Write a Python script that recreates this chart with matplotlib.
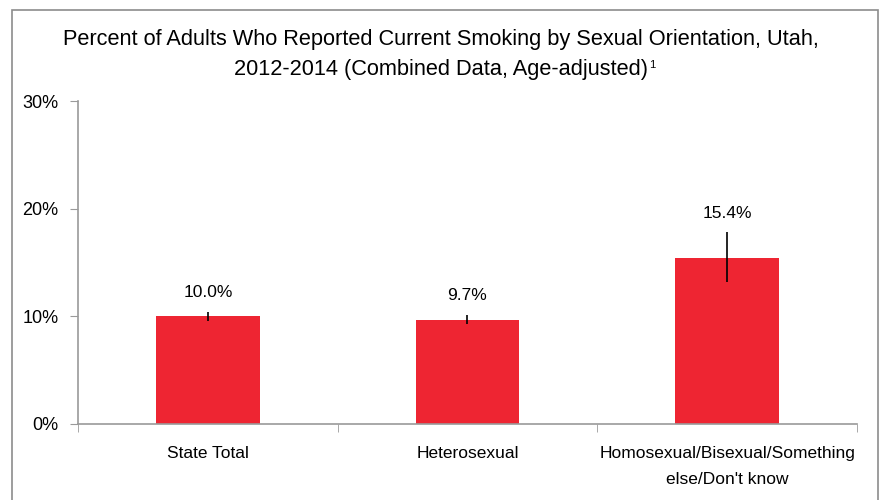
import matplotlib
matplotlib.use("Agg")
import matplotlib.pyplot as plt
from matplotlib.patches import Rectangle
from matplotlib.ticker import FuncFormatter

categories = ["State Total", "Heterosexual", "Homosexual/Bisexual/Something\nelse/Don't know"]
values = [10.0, 9.7, 15.4]
err_low = [9.6, 9.3, 13.2]
err_high = [10.4, 10.1, 17.8]
labels = ["10.0%", "9.7%", "15.4%"]

plt.rcParams['font.family'] = ['Liberation Sans', 'DejaVu Sans']

fig = plt.figure(figsize=(8.82, 5), dpi=100)
ax = fig.add_axes([78/882, 1 - 424/500, (857-78)/882, (424-101)/500])

# outer frame
fig.patches.append(Rectangle((12/882, -0.05), (878-12)/882, 1.05 - 10/500,
                             transform=fig.transFigure, fill=False,
                             edgecolor="#8c8c8c", linewidth=1.2))

x = range(len(categories))
yerr = [[v - lo for v, lo in zip(values, err_low)], [hi - v for v, hi in zip(values, err_high)]]
ax.bar(x, values, width=0.4, color="#ee2532")
ax.errorbar(x, values, yerr=yerr, fmt="none", ecolor="black", elinewidth=1.2, capsize=0)

for xi, hi, lab in zip(x, err_high, labels):
    ax.text(xi, hi + 1.1, lab, ha="center", va="bottom", fontsize=12.5)

ax.set_xlim(-0.5, 2.5)
ax.set_ylim(0, 30)
ax.set_yticks([0, 10, 20, 30])
ax.yaxis.set_major_formatter(FuncFormatter(lambda v, p: "%d%%" % v))
ax.set_xticks(list(x))
ax.set_xticklabels(categories, fontsize=12.5, linespacing=1.9)
ax.set_xticks([-0.5, 0.5, 1.5, 2.5], minor=True)
ax.tick_params(axis="x", which="major", length=0, pad=16)
ax.tick_params(axis="x", which="minor", length=6, color="#9a9a9a")
ax.tick_params(axis="y", length=6, color="#9a9a9a", labelsize=13, pad=8)

for s in ["top", "right"]:
    ax.spines[s].set_visible(False)
for s in ["left", "bottom"]:
    ax.spines[s].set_color("#9a9a9a")
    ax.spines[s].set_linewidth(1.2)

fig.text(0.5, 1 - 39/500, "Percent of Adults Who Reported Current Smoking by Sexual Orientation, Utah,",
         ha="center", va="center", fontsize=15.7)
line2 = fig.text(0.5, 1 - 70/500, "2012-2014 (Combined Data, Age-adjusted)",
                 ha="center", va="center", fontsize=15.7)
ax.annotate("1", xy=(1, 1), xycoords=line2, xytext=(0.5, 0), textcoords="offset points",
            ha="left", va="top", fontsize=8)

fig.savefig("out.png", dpi=100)
